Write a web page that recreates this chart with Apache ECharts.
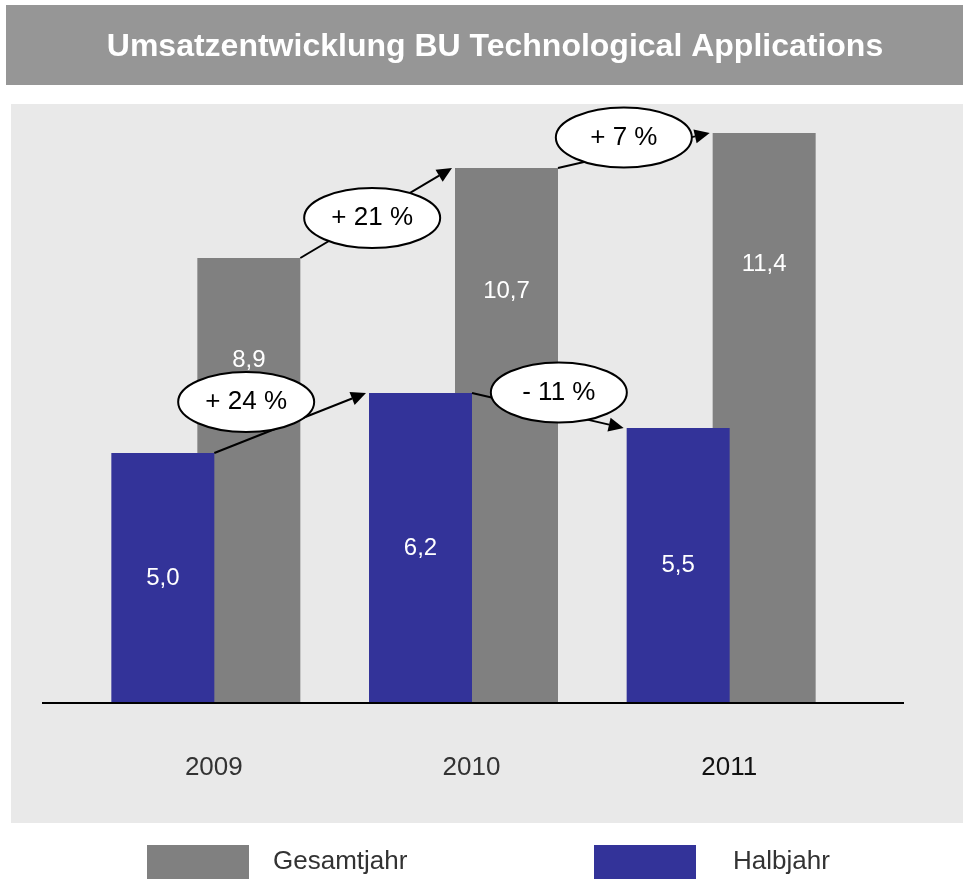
<!DOCTYPE html>
<html>
<head>
<meta charset="utf-8">
<title>Umsatzentwicklung BU Technological Applications</title>
<script src="https://cdn.jsdelivr.net/npm/echarts@6/dist/echarts.min.js"></script>
<style>
  html, body { margin: 0; padding: 0; background: #fff; }
  #chart { width: 963px; height: 879px; }
</style>
</head>
<body>
<div id="chart"></div>
<script>
// Umsatz in Mio. (Werte aus den Balkenbeschriftungen)
var years = ["2009", "2010", "2011"];
var halbjahr = [5.0, 6.2, 5.5];
var gesamtjahr = [8.9, 10.7, 11.4];

// Veraenderungen zwischen zwei Jahren: 0 = Halbjahr, 1 = Gesamtjahr
var changeText = ["+ 24 %", "- 11 %", "+ 21 %", "+ 7 %"];
var changeSeries = [0, 0, 1, 1];
var changeFrom = [0, 1, 0, 1];
// Lage der Ellipsen zur Pfeilmitte (px)
var bubbleShift = [[-44, -21], [11, -18], [-4, 5], [-10, -13]];

var FONT = '"Liberation Sans", Arial, sans-serif';
var barW = 103;
var overlap = 17;

function fmt(v) {
  return v.toFixed(1).replace(".", ",");
}

// Kanten der Balken relativ zur Kategoriemitte
function barEdges(c, s) {
  var left = c - (2 * barW - overlap) / 2;
  if (s === 1) left = left + barW - overlap;
  return [left, left + barW];
}

function renderChange(params, api) {
  var k = params.dataIndex;
  var vals = changeSeries[k] === 0 ? halbjahr : gesamtjahr;
  var i = changeFrom[k];
  var p1 = api.coord([i, vals[i]]);
  var p2 = api.coord([i + 1, vals[i + 1]]);
  var ax = barEdges(p1[0], changeSeries[k])[1];
  var ay = p1[1];
  var bx = barEdges(p2[0], changeSeries[k])[0] - 3;
  var by = p2[1];
  var ang = Math.atan2(by - ay, bx - ax);
  var hl = 15, hw = 7;
  var baseX = bx - hl * Math.cos(ang), baseY = by - hl * Math.sin(ang);
  var nx = -Math.sin(ang), ny = Math.cos(ang);
  var cx = (ax + bx) / 2 + bubbleShift[k][0];
  var cy = (ay + by) / 2 + bubbleShift[k][1];
  return {
    type: "group",
    children: [
      {
        type: "line",
        shape: { x1: ax, y1: ay, x2: baseX, y2: baseY },
        style: { stroke: "#000", lineWidth: 2 }
      },
      {
        type: "polygon",
        shape: { points: [[bx, by], [baseX + nx * hw, baseY + ny * hw], [baseX - nx * hw, baseY - ny * hw]] },
        style: { fill: "#000" }
      },
      {
        type: "ellipse",
        shape: { cx: cx, cy: cy, rx: 68, ry: 30 },
        style: { fill: "#fff", stroke: "#000", lineWidth: 2 }
      },
      {
        type: "text",
        style: {
          text: changeText[k], x: cx, y: cy, align: "center", verticalAlign: "middle",
          fill: "#000", fontSize: 26, fontFamily: FONT
        }
      }
    ]
  };
}

var myChart = echarts.init(document.getElementById("chart"));
myChart.setOption({
  animation: false,
  backgroundColor: "#fff",
  textStyle: { fontFamily: FONT },
  graphic: [
    { type: "rect", z: -10, shape: { x: 6, y: 5, width: 957, height: 80 }, style: { fill: "#969696" } },
    {
      type: "text", z: -9,
      style: {
        text: "Umsatzentwicklung BU Technological Applications", x: 495, y: 47,
        align: "center", verticalAlign: "middle", fill: "#fff",
        fontSize: 32, fontWeight: "bold", fontFamily: FONT
      }
    },
    { type: "rect", z: -10, shape: { x: 11, y: 104, width: 952, height: 719 }, style: { fill: "#e9e9e9" } },
    { type: "line", z: 50, shape: { x1: 42, y1: 703, x2: 904, y2: 703 }, style: { stroke: "#000", lineWidth: 2 } }
  ],
  legend: [
    {
      data: ["Gesamtjahr"], left: 147, top: 845, padding: 0, itemWidth: 102, itemHeight: 34,
      icon: "rect", textStyle: { fontSize: 26, color: "#333", padding: [0, 0, 0, 19] }
    },
    {
      data: ["Halbjahr"], left: 594, top: 845, padding: 0, itemWidth: 102, itemHeight: 34,
      icon: "rect", textStyle: { fontSize: 26, color: "#333", padding: [0, 0, 0, 32] }
    }
  ],
  grid: { left: 77, right: 113, top: 103, bottom: 176 },
  xAxis: {
    type: "category",
    data: years,
    axisLine: { show: false },
    axisTick: { show: false },
    axisLabel: {
      margin: 52, fontSize: 26, padding: [0, 0, 0, 16],
      color: function (v) { return v === "2011" ? "#111" : "#333"; }
    }
  },
  yAxis: { type: "value", min: 0, max: 12, show: false, splitLine: { show: false } },
  series: [
    {
      name: "Halbjahr",
      type: "bar",
      data: halbjahr,
      barWidth: barW,
      barGap: (-overlap / barW * 100) + "%",
      z: 3,
      itemStyle: { color: "#333399" },
      label: {
        show: true, position: "inside", color: "#fff", fontSize: 24,
        formatter: function (p) { return fmt(p.value); }
      }
    },
    {
      name: "Gesamtjahr",
      type: "bar",
      data: gesamtjahr,
      barWidth: barW,
      z: 2,
      itemStyle: { color: "#808080" },
      label: {
        show: true, position: ["50%", "23%"], align: "center", verticalAlign: "middle",
        color: "#fff", fontSize: 24,
        formatter: function (p) { return fmt(p.value); }
      }
    },
    {
      type: "custom",
      z: 6,
      clip: false,
      renderItem: renderChange,
      data: changeText.map(function (t, k) { return [changeFrom[k], 0]; })
    }
  ]
});
</script>
</body>
</html>
